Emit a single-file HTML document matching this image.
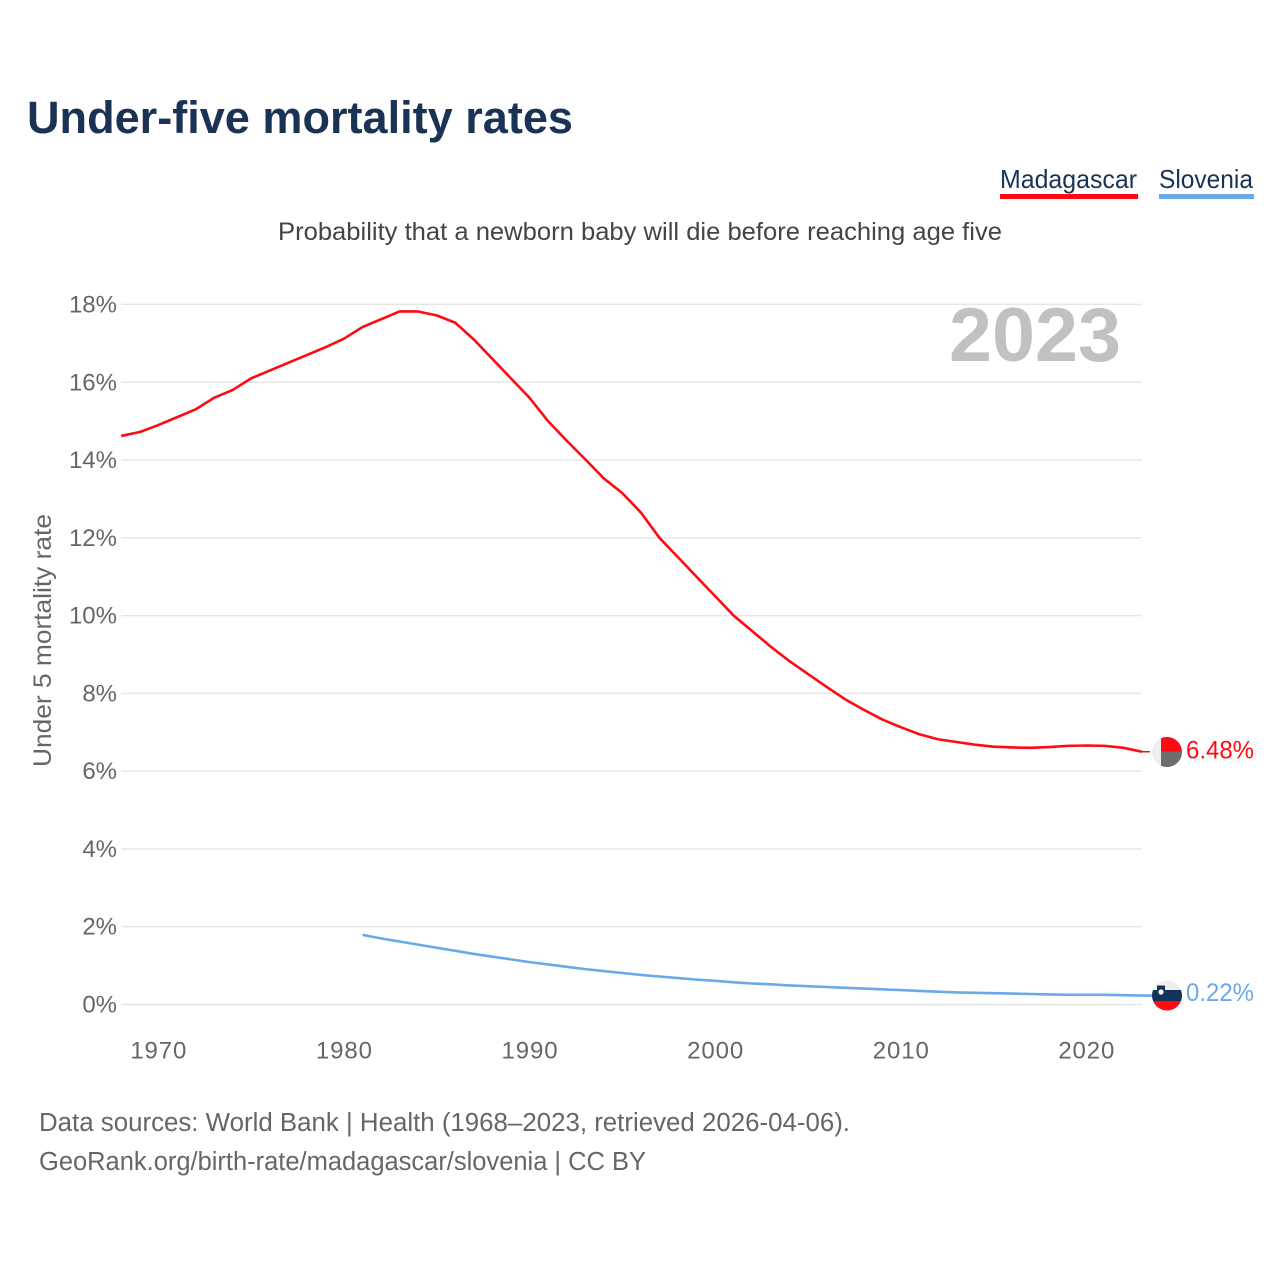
<!DOCTYPE html>
<html lang="en">
<head>
<meta charset="utf-8">
<title>Under-five mortality rates</title>
<style>
html,body{margin:0;padding:0;background:#fff;width:1280px;height:1280px;overflow:hidden}
svg{display:block}
text{font-family:"Liberation Sans",sans-serif}
</style>
</head>
<body>
<svg id="chart" width="1280" height="1280" viewBox="0 0 1280 1280" xmlns="http://www.w3.org/2000/svg">
  <rect width="1280" height="1280" fill="#fff"/>
  <text x="27" y="133" font-size="45" font-weight="700" fill="#1a3354" textLength="546" lengthAdjust="spacingAndGlyphs">Under-five mortality rates</text>
  <g>
    <text x="1000" y="188" font-size="26" fill="#1a3354" textLength="137" lengthAdjust="spacingAndGlyphs">Madagascar</text>
    <rect x="1000" y="194" width="138" height="5" fill="#ff0a12"/>
  </g>
  <g>
    <text x="1159" y="188" font-size="26" fill="#1a3354" textLength="94" lengthAdjust="spacingAndGlyphs">Slovenia</text>
    <rect x="1159" y="194" width="95" height="5" fill="#6aa9e9"/>
  </g>
  <text x="278" y="240" font-size="25" fill="#444" textLength="724" lengthAdjust="spacingAndGlyphs">Probability that a newborn baby will die before reaching age five</text>
  <text transform="translate(51,767) rotate(-90)" font-size="25" fill="#666" textLength="253" lengthAdjust="spacingAndGlyphs">Under 5 mortality rate</text>
  <g id="grid"></g>
  <g id="yticks"></g>
  <g id="xticks"></g>
  <text x="949" y="361" font-size="76" font-weight="700" fill="#c1c1c1" textLength="172" lengthAdjust="spacingAndGlyphs">2023</text>
  <g id="series"></g>

  <g>
    <clipPath id="clip-mg"><circle cx="1167" cy="752" r="15"/></clipPath>
    <g clip-path="url(#clip-mg)">
      <rect x="1152" y="737" width="9" height="30" fill="#eeeeee"/>
      <rect x="1161" y="737" width="21" height="14.5" fill="#ff0a12"/>
      <rect x="1161" y="751.5" width="21" height="15.5" fill="#6b6e6b"/>
    </g>
  </g>
  <g>
    <clipPath id="clip-si"><circle cx="1167" cy="995.5" r="15"/></clipPath>
    <g clip-path="url(#clip-si)">
      <rect x="1152" y="980" width="30" height="10" fill="#eeeeee"/>
      <rect x="1152" y="990" width="30" height="11" fill="#17325a"/>
      <rect x="1152" y="1001" width="30" height="10" fill="#ff0a12"/>
      <path d="M1157 985.5h8v5q0 3.500-4 5q-4-1.500-4-5z" fill="#17325a"/>
      <circle cx="1161" cy="992" r="2.600" fill="#fff"/>
    </g>
  </g>
  <text x="1186" y="758.500" font-size="25" fill="#ff0a12" textLength="68" lengthAdjust="spacingAndGlyphs">6.48%</text>
  <text x="1186" y="1001" font-size="25" fill="#6aa9e9" textLength="68" lengthAdjust="spacingAndGlyphs">0.22%</text>

  <text x="39" y="1131" font-size="25.500" fill="#666" textLength="811" lengthAdjust="spacingAndGlyphs">Data sources: World Bank | Health (1968–2023, retrieved 2026-04-06).</text>
  <text x="39" y="1170" font-size="25.500" fill="#666" textLength="607" lengthAdjust="spacingAndGlyphs">GeoRank.org/birth-rate/madagascar/slovenia | CC BY</text>
</svg>
<script>
const yTicks = [0, 2, 4, 6, 8, 10, 12, 14, 16, 18];
const xTicks = [1970, 1980, 1990, 2000, 2010, 2020];
const madagascarStartYear = 1968;
const madagascarValues = [14.62, 14.72, 14.9, 15.1, 15.3, 15.6, 15.8, 16.1, 16.3, 16.5, 16.7, 16.9, 17.12, 17.42, 17.62, 17.82, 17.82, 17.72, 17.53, 17.1, 16.6, 16.1, 15.6, 15.0, 14.5, 14.02, 13.53, 13.15, 12.65, 12.0, 11.5, 11.0, 10.5, 10.0, 9.6, 9.2, 8.83, 8.5, 8.17, 7.85, 7.58, 7.33, 7.13, 6.95, 6.82, 6.75, 6.68, 6.63, 6.61, 6.6, 6.62, 6.65, 6.66, 6.65, 6.6, 6.5];
const sloveniaStartYear = 1981;
const sloveniaValues = [1.79, 1.70, 1.62, 1.54, 1.46, 1.38, 1.30, 1.23, 1.16, 1.09, 1.03, 0.97, 0.91, 0.86, 0.81, 0.76, 0.72, 0.68, 0.64, 0.61, 0.57, 0.54, 0.52, 0.49, 0.47, 0.45, 0.43, 0.41, 0.39, 0.37, 0.35, 0.33, 0.31, 0.30, 0.29, 0.28, 0.27, 0.26, 0.25, 0.25, 0.25, 0.24, 0.23, 0.23];

const NS = 'http://www.w3.org/2000/svg';
const xScale = function (year) { return 121.2 + (year - 1968) * 18.56; };
const yScale = function (v) { return 1004.5 - v * 38.89; };
const LAST_YEAR = 2023;

const grid = document.getElementById('grid');
const yG = document.getElementById('yticks');
const xG = document.getElementById('xticks');
const seriesG = document.getElementById('series');

yTicks.forEach(function (t) {
  const line = document.createElementNS(NS, 'line');
  
  
  line.setAttribute('x1', xScale(1968));
  line.setAttribute('x2', xScale(LAST_YEAR) - 0.5);
  line.setAttribute('y1', yScale(t));
  line.setAttribute('y2', yScale(t));
  line.setAttribute('stroke', '#e6e6e6');
  line.setAttribute('stroke-width', '1.4');
  grid.appendChild(line);

  const label = document.createElementNS(NS, 'text');
  
  
  label.setAttribute('x', 117);
  label.setAttribute('y', yScale(t) + 8);
  label.setAttribute('text-anchor', 'end');
  label.setAttribute('font-size', '24');
  label.setAttribute('fill', '#666');
  label.textContent = t + '%';
  yG.appendChild(label);
});

xTicks.forEach(function (t) {
  const label = document.createElementNS(NS, 'text');
  
  
  label.setAttribute('x', xScale(t) + 0.5);
  label.setAttribute('y', 1058.5);
  label.setAttribute('text-anchor', 'middle');
  label.setAttribute('font-size', '24');
  label.setAttribute('letter-spacing', '0.9');
  label.setAttribute('fill', '#666');
  label.textContent = t;
  xG.appendChild(label);
});

function buildPoints(startYear, values) {
  return values.map(function (v, i) {
    return xScale(startYear + i).toFixed(2) + ',' + yScale(v).toFixed(2);
  }).join(' ');
}

function drawConnector(lastValue, color) {
  const c = document.createElementNS(NS, 'line');
  
  
  c.setAttribute('x1', xScale(LAST_YEAR));
  c.setAttribute('x2', 1150);
  c.setAttribute('y1', yScale(lastValue));
  c.setAttribute('y2', yScale(lastValue));
  c.setAttribute('stroke', color);
  c.setAttribute('stroke-width', '1.5');
  seriesG.appendChild(c);
}

const sloveniaLine = document.createElementNS(NS, 'polyline');


sloveniaLine.setAttribute('points', buildPoints(sloveniaStartYear, sloveniaValues));
sloveniaLine.setAttribute('fill', 'none');
sloveniaLine.setAttribute('stroke', '#6aa9e9');
sloveniaLine.setAttribute('stroke-width', '2.6');
seriesG.appendChild(sloveniaLine);
drawConnector(sloveniaValues[sloveniaValues.length - 1], '#6aa9e9');

const madagascarLine = document.createElementNS(NS, 'polyline');


madagascarLine.setAttribute('points', buildPoints(madagascarStartYear, madagascarValues));
madagascarLine.setAttribute('fill', 'none');
madagascarLine.setAttribute('stroke', '#ff0a12');
madagascarLine.setAttribute('stroke-width', '2.6');
madagascarLine.setAttribute('stroke-linejoin', 'round');
seriesG.appendChild(madagascarLine);
drawConnector(madagascarValues[madagascarValues.length - 1], '#ff0a12');
</script>
</body>
</html>
